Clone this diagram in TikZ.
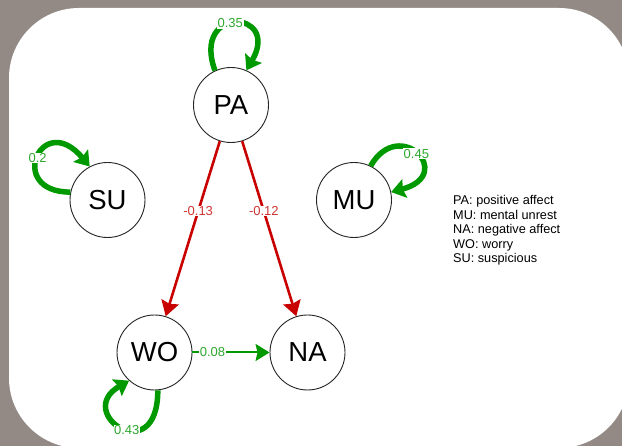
\documentclass[tikz,border=0pt]{standalone}
\usepackage{fontspec}
\setmainfont{Liberation Sans}
\usetikzlibrary{arrows.meta}
\definecolor{bggray}{HTML}{938A85}
\definecolor{edgered}{HTML}{C80000}
\definecolor{labred}{HTML}{D03434}
\definecolor{edgegreen}{HTML}{009900}
\definecolor{labgreen}{HTML}{2EA82E}
\begin{document}
\begin{tikzpicture}[x=1pt,y=1pt,
  state/.style={circle, draw=black!85, line width=0.9pt, fill=white,
    minimum size=75pt, inner sep=0pt, font=\fontsize{27.5}{32}\selectfont},
  posedge/.style={draw=edgegreen, line width=2pt,
    -{Stealth[length=14pt,width=17pt,inset=2pt]}},
  negedge/.style={draw=edgered, line width=2.6pt,
    -{Stealth[length=15pt,width=18pt,inset=2pt]}},
  selfloop/.style={draw=edgegreen, line width=5.5pt,
    -{Stealth[length=14pt,width=19pt,inset=2pt]}},
  glabel/.style={text=labgreen, fill=white, inner sep=0.6pt,
    font=\fontsize{13}{14}\selectfont},
  rlabel/.style={text=labred, fill=white, inner sep=0.6pt,
    font=\fontsize{13}{14}\selectfont},
  legend/.style={anchor=base west, inner sep=0pt,
    font=\fontsize{12.7}{14.5}\selectfont}
]
% page and panel
\useasboundingbox (0,0) rectangle (622,-446);
\fill[bggray] (0,0) rectangle (622,-446);
\fill[white, rounded corners=70pt] (9,-8) rectangle (629,-448);

% states
\node[state] (PA) at (231,-105) {PA};
\node[state] (SU) at (107.5,-200) {SU};
\node[state] (MU) at (354,-200) {MU};
\node[state] (WO) at (154.5,-352.5) {WO};
\node[state] (NA) at (307.5,-352.5) {NA};

% directed effects
\draw[negedge] (PA) -- node[rlabel, pos=0.4] {-0.13} (WO);
\draw[negedge] (PA) -- node[rlabel, pos=0.4] {-0.12} (NA);
\draw[posedge] (WO) -- node[glabel, pos=0.26] {0.08} (NA);

% autoregressive loops
\draw[selfloop] (PA.115) to[out=110, in=60, out distance=70, in distance=70]
  node[glabel, pos=0.45] {0.35} (PA.66);
\draw[selfloop] (SU.168) to[out=180, in=130, out distance=65, in distance=75]
  node[glabel, pos=0.5] {0.2} (SU.118);
\draw[selfloop] (MU.64) to[out=60, in=15, out distance=58, in distance=68]
  node[glabel, pos=0.5] {0.45} (MU.12);
\draw[selfloop] (WO.275) to[out=270, in=210, out distance=80, in distance=65]
  node[glabel, pos=0.45] {0.43} (WO.228);

% legend
\node[legend] (leg1) at (453,-205) {PA: positive affect};
\node[legend] (leg2) at (453,-219.5) {MU: mental unrest};
\node[legend] (leg3) at (453,-234) {NA: negative affect};
\node[legend] (leg4) at (453,-248.5) {WO: worry};
\node[legend] (leg5) at (453,-263) {SU: suspicious};
\end{tikzpicture}
\end{document}
